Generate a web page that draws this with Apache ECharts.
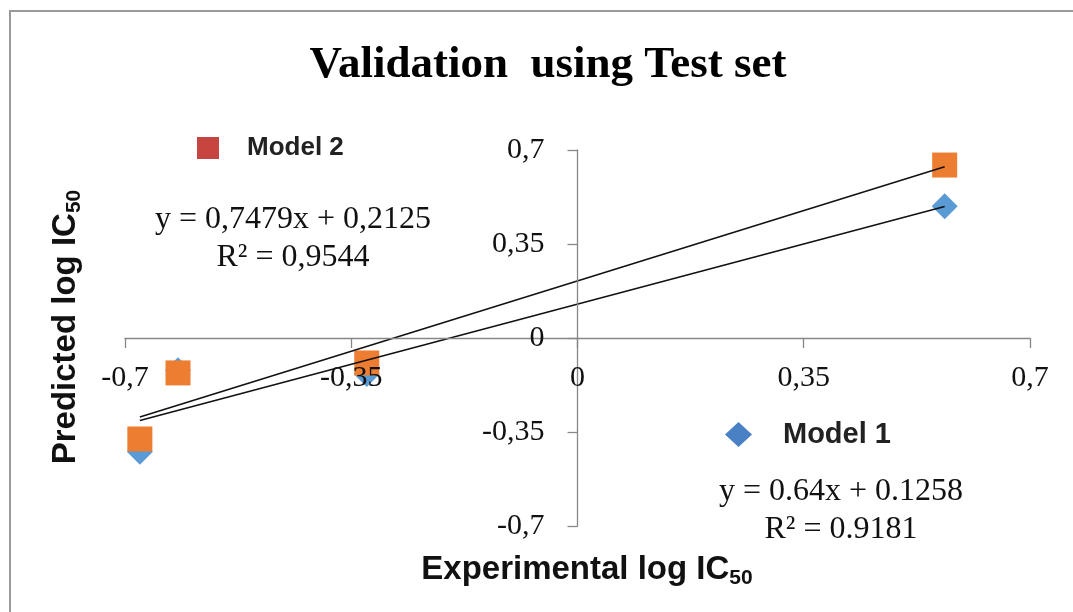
<!DOCTYPE html>
<html>
<head>
<meta charset="utf-8">
<script src="https://cdn.jsdelivr.net/npm/echarts@6/dist/echarts.min.js"></script>
<style>
html,body{margin:0;padding:0;background:#fff;}
#chart{width:1073px;height:612px;}
</style>
</head>
<body>
<div id="chart"></div>
<script>
// ---- data ----
const experimental = [-0.677, -0.618, -0.326, 0.568];
const model1Pred   = [-0.424, -0.120, -0.134, 0.491];
const model2Pred   = [-0.376, -0.130, -0.093, 0.644];
const model1Fit    = [0.64, 0.1258];    // slope, intercept
const model2Fit    = [0.7479, 0.2125];  // slope, intercept
const model1Eq     = ['y = 0.64x + 0.1258', 'R² = 0.9181'];
const model2Eq     = ['y = 0,7479x + 0,2125', 'R² = 0,9544'];
const axisRange    = [-0.7, 0.7];
const axisStep     = 0.35;
const seriesNames  = ['Model 1', 'Model 2'];

const pts = (ys) => experimental.map((x, i) => [x, ys[i]]);
const xLo = Math.min(...experimental), xHi = Math.max(...experimental);
const fitLine = (f) => [[xLo, f[0] * xLo + f[1]], [xHi, f[0] * xHi + f[1]]];
const fmt = (v) => String(Math.round(v * 100) / 100).replace('.', ',');

const W = 1073, H = 612;
const grid = {left: 125, right: 43, top: 150, bottom: 86};
const gridW = W - grid.left - grid.right, gridH = H - grid.top - grid.bottom;

const chart = echarts.init(document.getElementById('chart'));
const serif = '"Liberation Serif", "Times New Roman", serif';
const sans = '"Liberation Sans", Arial, sans-serif';
const axisCommon = {
  type: 'value', min: axisRange[0], max: axisRange[1], interval: axisStep,
  splitLine: {show: false},
  axisLine: {show: true, onZero: false, lineStyle: {color: '#878787', width: 1.3}},
  axisTick: {show: true, length: 10, lineStyle: {color: '#878787', width: 1.3}},
  z: 5
};
chart.setOption({
  animation: false,
  backgroundColor: '#fff',
  grid: grid,
  xAxis: Object.assign({}, axisCommon, {
    offset: -gridH / 2,   // axis crosses at y = 0 (symmetric range)
    axisLabel: {formatter: fmt, fontFamily: serif, fontSize: 30, color: '#111', margin: 25}
  }),
  yAxis: Object.assign({}, axisCommon, {
    offset: -gridW / 2,   // axis crosses at x = 0 (symmetric range)
    axisLabel: {formatter: fmt, fontFamily: serif, fontSize: 30, color: '#111', margin: 33}
  }),
  legend: [
    {data: [{name: seriesNames[1], icon: 'rect', itemStyle: {color: '#C8453F', opacity: 1}}],
     left: 197, top: 135, padding: 0, itemWidth: 22, itemHeight: 22,
     textStyle: {fontFamily: sans, fontWeight: 'bold', fontSize: 26, color: '#222', padding: [0, 0, 0, 23]}},
    {data: [{name: seriesNames[0], icon: 'diamond', itemStyle: {color: '#4A80C4', opacity: 1}}],
     left: 725, top: 420, padding: 0, itemWidth: 27, itemHeight: 25,
     textStyle: {fontFamily: sans, fontWeight: 'bold', fontSize: 29, color: '#222', padding: [0, 0, 0, 26]}}
  ],
  series: [
    {name: seriesNames[0], type: 'scatter', symbol: 'diamond', symbolSize: 26,
     itemStyle: {color: '#5B9BD5', opacity: 1}, data: pts(model1Pred), z: 2},
    {name: seriesNames[1], type: 'scatter', symbol: 'rect', symbolSize: 25,
     itemStyle: {color: '#ED7D31', opacity: 1}, data: pts(model2Pred), z: 2},
    {type: 'line', data: fitLine(model1Fit), symbol: 'none', silent: true,
     lineStyle: {color: '#111', width: 1.6}, z: 3},
    {type: 'line', data: fitLine(model2Fit), symbol: 'none', silent: true,
     lineStyle: {color: '#111', width: 1.6}, z: 3}
  ],
  graphic: [
    {type: 'rect', shape: {x: 10, y: 11, width: 1200, height: 700}, silent: true,
     style: {fill: 'none', stroke: '#9a9a9a', lineWidth: 2}, z: -1},
    {type: 'text', x: 548, y: 65, style: {text: 'Validation  using Test set', fontFamily: serif,
     fontWeight: 'bold', fontSize: 45, fill: '#000', align: 'center', verticalAlign: 'middle'}},
    {type: 'text', x: 587, y: 570, style: {
      text: '{a|Experimental log IC}{s|50}', align: 'center', verticalAlign: 'middle',
      rich: {a: {fontFamily: sans, fontWeight: 'bold', fontSize: 33, fill: '#111', lineHeight: 38},
             s: {fontFamily: sans, fontWeight: 'bold', fontSize: 21, fill: '#111', lineHeight: 21, verticalAlign: 'bottom'}}}},
    {type: 'text', x: 66, y: 327, rotation: Math.PI / 2, style: {
      text: '{a|Predicted log IC}{s|50}', align: 'center', verticalAlign: 'middle',
      rich: {a: {fontFamily: sans, fontWeight: 'bold', fontSize: 33, fill: '#111', lineHeight: 38},
             s: {fontFamily: sans, fontWeight: 'bold', fontSize: 21, fill: '#111', lineHeight: 21, verticalAlign: 'bottom'}}}},
    {type: 'text', x: 293, y: 239, style: {text: model2Eq.join('\n'), fontFamily: serif, fontSize: 32,
     lineHeight: 38, fill: '#111', align: 'center', verticalAlign: 'middle'}},
    {type: 'text', x: 841, y: 511, style: {text: model1Eq.join('\n'), fontFamily: serif, fontSize: 32,
     lineHeight: 38, fill: '#111', align: 'center', verticalAlign: 'middle'}}
  ]
});
</script>
</body>
</html>
